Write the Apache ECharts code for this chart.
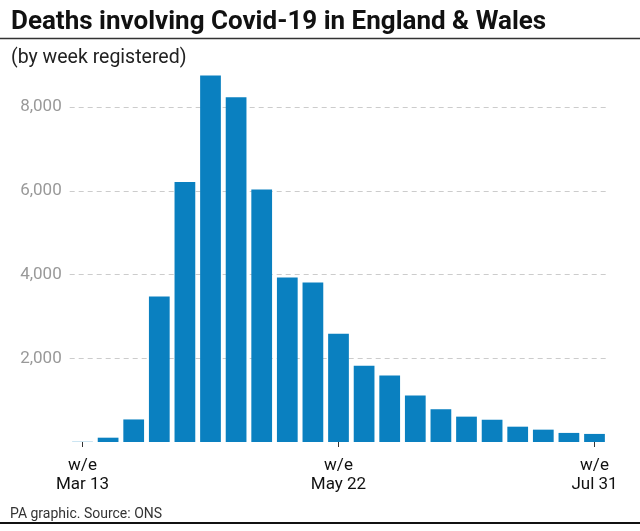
<!DOCTYPE html>
<html>
<head>
<meta charset="utf-8">
<script src="https://cdn.jsdelivr.net/npm/echarts@6/dist/echarts.min.js"></script>
<style>
html,body{margin:0;padding:0;background:#fff;}
#chart{width:640px;height:531px;}
</style>
</head>
<body>
<div id="chart"></div>
<script>
// Week ending dates (2020)
var categories = ['Mar 13','Mar 20','Mar 27','Apr 3','Apr 10','Apr 17','Apr 24','May 1','May 8','May 15','May 22','May 29','Jun 5','Jun 12','Jun 19','Jun 26','Jul 3','Jul 10','Jul 17','Jul 24','Jul 31'];
// Deaths involving Covid-19 by week registered
var deaths = [5,103,539,3475,6213,8758,8237,6035,3930,3810,2589,1822,1588,1114,783,606,532,366,295,217,193];
var yTicks = [2000,4000,6000,8000];

var chart = echarts.init(document.getElementById('chart'), null, {renderer:'canvas'});
var option = {
  animation:false,
  backgroundColor:'#fff',
  title:[
    {text:'Deaths involving Covid-19 in England & Wales', left:6, top:4,
     textStyle:{fontFamily:'Liberation Sans Narrow, Roboto, sans-serif', fontWeight:'bold', fontSize:26, color:'#111'}},
    {text:'(by week registered)', left:6, top:43,
     textStyle:{fontFamily:'Roboto, sans-serif', fontWeight:'normal', fontSize:19.5, color:'#222'}},
    {text:'PA graphic. Source: ONS', left:5, top:502,
     textStyle:{fontFamily:'Roboto, sans-serif', fontWeight:'normal', fontSize:14, color:'#333'}}
  ],
  graphic:[
    {type:'line', shape:{x1:0,y1:38.5,x2:640,y2:38.5}, style:{stroke:'#333', lineWidth:1.5}},
    {type:'line', shape:{x1:0,y1:523,x2:640,y2:523}, style:{stroke:'#111', lineWidth:2}}
  ],
  grid:{left:69.7, right:32.7, top:65.4, bottom:89, containLabel:false},
  xAxis:{
    type:'category', data:categories, offset:6,
    axisLine:{show:false},
    axisTick:{show:true, interval:9, alignWithLabel:true, length:5, lineStyle:{color:'#333', width:1}},
    axisLabel:{interval:9, margin:8, fontFamily:'Roboto, sans-serif', fontSize:17, lineHeight:19, color:'#111',
      formatter:function(v){return 'w/e\n'+v;}}
  },
  yAxis:{
    type:'value', min:0, max:9000, interval:2000,
    axisLine:{show:false}, axisTick:{show:false},
    axisLabel:{showMinLabel:false, showMaxLabel:false, margin:8, fontFamily:'Roboto, sans-serif', fontSize:17, color:'#999',
      formatter:function(v){return yTicks.indexOf(v)>=0 ? v.toLocaleString('en-GB') : '';}},
    splitLine:{show:true, showMinLine:false, showMaxLine:false, lineStyle:{color:'#ccc', type:[5,4], width:1}}
  },
  series:[{
    type:'bar', data:deaths, barCategoryGap:'19%',
    itemStyle:{color:'#0a80c0'}
  }]
};
chart.setOption(option);
</script>
</body>
</html>
